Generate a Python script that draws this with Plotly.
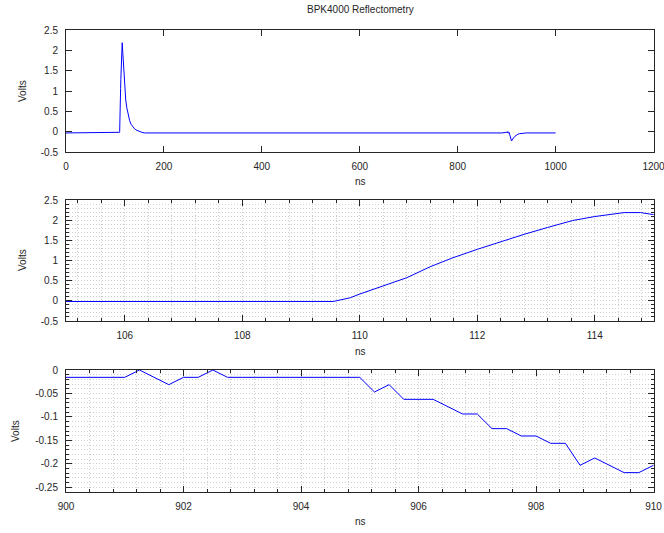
import plotly.graph_objects as go

# ---------------- data ----------------
# baseline before the pulse
t_pre = [0, 10, 20, 30, 40, 50, 60, 70, 80, 90, 100]
v_pre = [-0.03125, -0.03125, -0.03125, -0.03125, -0.015625, -0.03125,
         -0.03125, -0.03125, -0.03125, -0.015625, -0.03125]

# launch pulse, 105..115 ns (detail window of panel 2)
t_rise = [105.0, 105.1, 105.15, 106.85, 106.9, 107.13, 107.18, 107.85, 107.9,
          108.1, 108.15, 108.85, 108.9, 109.55, 109.6, 109.84, 110.0, 110.4,
          110.8, 111.2, 111.57, 112.0, 112.4, 112.8, 113.2, 113.62, 114.0,
          114.41, 114.5, 114.78, 115.0]
v_rise = [-0.015625, -0.015625, -0.03125, -0.03125, -0.015625, -0.015625,
          -0.03125, -0.03125, -0.015625, -0.015625, -0.03125, -0.03125,
          -0.015625, -0.015625, 0.0, 0.077, 0.169, 0.375, 0.573, 0.846, 1.06,
          1.277, 1.466, 1.65, 1.82, 1.99, 2.09, 2.18, 2.1875, 2.1875, 2.14]

# pulse decay back to baseline
t_decay = [116, 117, 118, 119, 120, 122, 124, 126, 128, 130, 133, 136, 140,
           145, 150, 155, 160]
v_decay = [1.95, 1.7, 1.45, 1.22, 1.02, 0.78, 0.6, 0.46, 0.36, 0.27, 0.18,
           0.12, 0.07, 0.03, 0.0, -0.015625, -0.03125]

# long baseline between the pulses
t_mid = [170, 190, 210, 230, 250, 270, 290, 310, 330, 350, 365, 380, 400, 420,
         440, 460, 480, 500, 520, 540, 560, 580, 600, 620, 640, 660, 680, 700,
         720, 740, 760, 780, 800, 820, 840, 860, 880, 890]
v_mid = [-0.03125, -0.03125, -0.03125, -0.03125, -0.03125, -0.03125,
         -0.03125, -0.03125, -0.03125, -0.03125, -0.0390625, -0.03125,
         -0.03125, -0.03125, -0.03125, -0.03125, -0.03125, -0.03125,
         -0.03125, -0.03125, -0.03125, -0.03125, -0.03125, -0.03125,
         -0.03125, -0.03125, -0.03125, -0.03125, -0.03125, -0.03125,
         -0.03125, -0.03125, -0.03125, -0.03125, -0.03125, -0.03125,
         -0.03125, -0.03125]

# reflection, 900..910 ns (detail window of panel 3), 0.25 ns samples
t_refl = [900.0, 900.25, 900.5, 900.75, 901.0, 901.25, 901.5, 901.75, 902.0,
          902.25, 902.5, 902.75, 903.0, 903.25, 903.5, 903.75, 904.0, 904.25,
          904.5, 904.75, 905.0, 905.25, 905.5, 905.75, 906.0, 906.25, 906.5,
          906.75, 907.0, 907.25, 907.5, 907.75, 908.0, 908.25, 908.5, 908.75,
          909.0, 909.25, 909.5, 909.75, 910.0]
v_refl = [-0.015625, -0.015625, -0.015625, -0.015625, -0.015625, 0.0,
          -0.015625, -0.03125, -0.015625, -0.015625, 0.0, -0.015625,
          -0.015625, -0.015625, -0.015625, -0.015625, -0.015625, -0.015625,
          -0.015625, -0.015625, -0.015625, -0.046875, -0.03125, -0.0625,
          -0.0625, -0.0625, -0.078125, -0.09375, -0.09375, -0.125, -0.125,
          -0.140625, -0.140625, -0.15625, -0.15625, -0.203125, -0.1875,
          -0.203125, -0.21875, -0.21875, -0.203125]

# recovery after the reflection
t_post = [910.5, 911, 912, 913, 914, 916, 918, 920, 923, 926, 930, 935, 940,
          950, 960, 970, 980, 990, 1000]
v_post = [-0.21875, -0.203125, -0.1875, -0.171875, -0.15625, -0.125,
          -0.1, -0.08, -0.0625, -0.05, -0.04, -0.03125, -0.03125, -0.03125,
          -0.03125, -0.03125, -0.03125, -0.03125, -0.03125]

t_all = t_pre + t_rise + t_decay + t_mid + t_refl + t_post
v_all = v_pre + v_rise + v_decay + v_mid + v_refl + v_post

# tick labels
y1_vals = [-0.5, 0, 0.5, 1, 1.5, 2, 2.5]
y1_text = ["-0.5", "0", "0.5", "1", "1.5", "2", "2.5"]
y3_vals = [-0.25, -0.2, -0.15, -0.1, -0.05, 0]
y3_text = ["-0.25", "-0.2", "-0.15", "-0.1", "-0.05", "0"]

# ---------------- figure ----------------
W, H = 664, 533
FONT = "Liberation Sans, Arial, sans-serif"
TXT = "#262626"
AX = "#262626"
GRID = "#cfcfcf"
DOT = "1px,2px"
BLUE = "#0000ff"


def px_x(p):
    return p / W


def px_y(p):
    return 1 - p / H


fig = go.Figure()
for i in (1, 2, 3):
    fig.add_trace(go.Scatter(x=t_all, y=v_all, mode="lines",
                             line=dict(color=BLUE, width=1),
                             xaxis="x" if i == 1 else f"x{i}",
                             yaxis="y" if i == 1 else f"y{i}",
                             showlegend=False, hoverinfo="skip"))

xdom = [px_x(66), px_x(653.5)]

common = dict(showline=True, linecolor=AX, linewidth=1, mirror="allticks",
              ticks="inside", ticklen=6, tickcolor=AX, tickwidth=1,
              zeroline=False, automargin=False, ticklabelstandoff=5,
              ticklabeloverflow="allow",
              tickfont=dict(family=FONT, size=10, color=TXT))

minor_x = dict(dtick=0.4, tick0=0, ticks="inside", ticklen=3, tickcolor=AX,
               showgrid=True, gridcolor=GRID, griddash=DOT, gridwidth=1)

layout = dict(
    width=W, height=H, margin=dict(l=0, r=0, t=0, b=0),
    paper_bgcolor="white", plot_bgcolor="white",
    font=dict(family=FONT, size=10, color=TXT),
    xaxis=dict(domain=xdom, anchor="y", range=[0, 1200], dtick=200, tick0=0,
               showgrid=False, **common),
    yaxis=dict(domain=[px_y(152), px_y(30)], anchor="x", range=[-0.5, 2.5],
               tickmode="array", tickvals=y1_vals, ticktext=y1_text,
               showgrid=False, **common),
    xaxis2=dict(domain=xdom, anchor="y2", range=[105, 115], dtick=2, tick0=0,
                showgrid=True, gridcolor=GRID, griddash=DOT,
                minor=minor_x, **common),
    yaxis2=dict(domain=[px_y(321), px_y(200)], anchor="x2", range=[-0.5, 2.5],
                tickmode="array", tickvals=y1_vals, ticktext=y1_text,
                showgrid=True, gridcolor=GRID, griddash=DOT,
                minor=dict(dtick=0.1, tick0=0, ticks="inside", ticklen=3,
                           tickcolor=AX, showgrid=True, gridcolor=GRID,
                           griddash=DOT, gridwidth=1),
                **common),
    xaxis3=dict(domain=xdom, anchor="y3", range=[900, 910], dtick=2, tick0=0,
                showgrid=True, gridcolor=GRID, griddash=DOT,
                minor=minor_x, **common),
    yaxis3=dict(domain=[px_y(492), px_y(370)], anchor="x3", range=[-0.26, 0],
                tickmode="array", tickvals=y3_vals, ticktext=y3_text,
                showgrid=True, gridcolor=GRID, griddash=DOT,
                minor=dict(dtick=0.01, tick0=0, ticks="inside", ticklen=3,
                           tickcolor=AX, showgrid=True, gridcolor=GRID,
                           griddash=DOT, gridwidth=1),
                **common),
)
fig.update_layout(**layout)

ann = []
ann.append(dict(text="BPK4000 Reflectometry", x=px_x(360), y=px_y(10),
                xref="paper", yref="paper", showarrow=False,
                xanchor="center", yanchor="middle",
                font=dict(family=FONT, size=10, color=TXT)))
for ypix in (181, 351, 521):
    ann.append(dict(text="ns", x=px_x(360), y=px_y(ypix), xref="paper",
                    yref="paper", showarrow=False, xanchor="center",
                    yanchor="middle", font=dict(family=FONT, size=10, color=TXT)))
for xpix, ypix in ((22, 91), (22, 260), (15, 431)):
    ann.append(dict(text="Volts", x=px_x(xpix), y=px_y(ypix), xref="paper",
                    yref="paper", showarrow=False, textangle=-90,
                    xanchor="center", yanchor="middle",
                    font=dict(family=FONT, size=10, color=TXT)))
fig.update_layout(annotations=ann)

fig.write_html(
    "out.html",
    config={"displayModeBar": False},
    post_script="document.body.style.margin='0';"
                "document.body.style.overflow='hidden';",
)
